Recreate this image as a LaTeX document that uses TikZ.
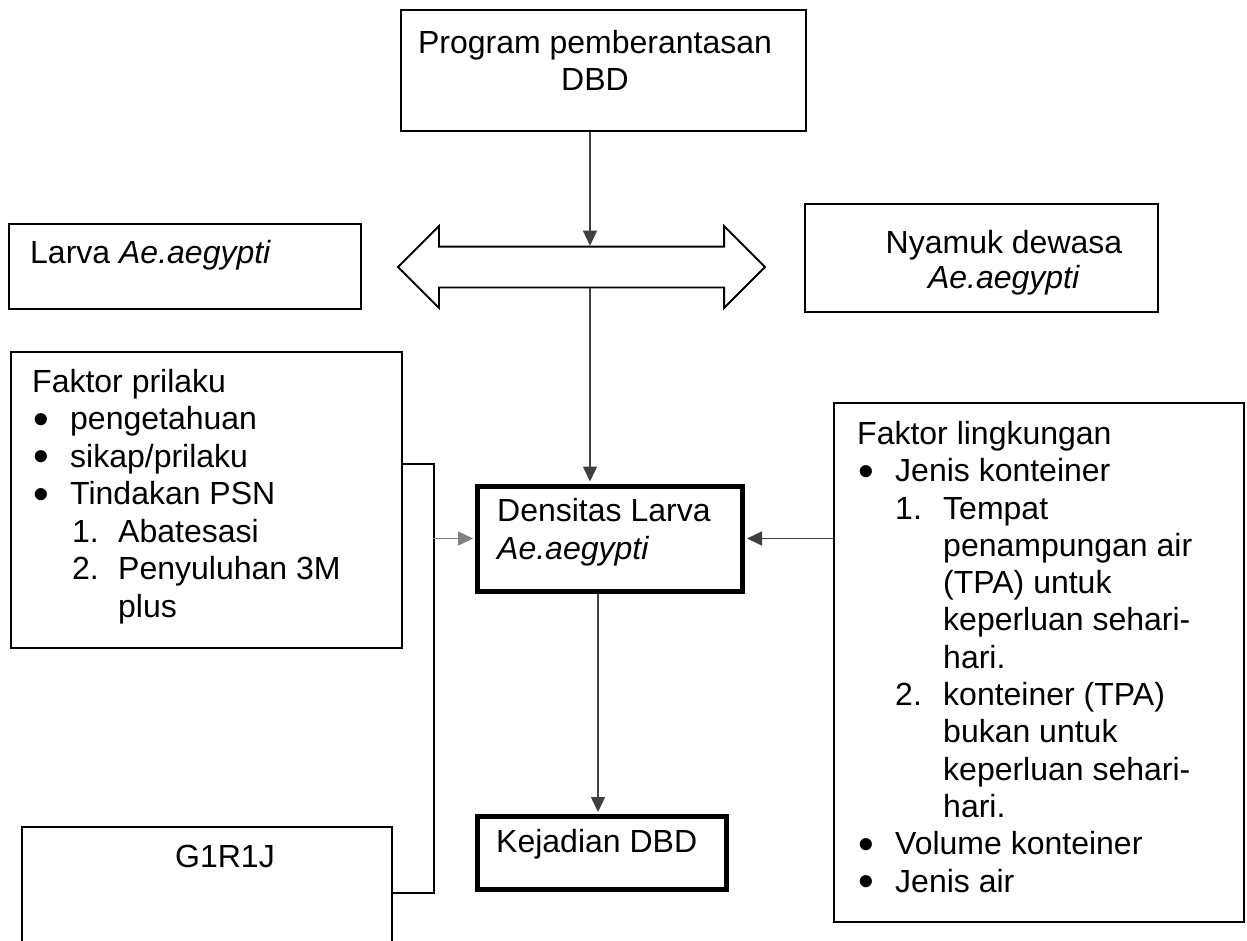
\documentclass[tikz,border=0pt]{standalone}
\usepackage{graphicx}
\usepackage{fontspec}
\setmainfont{Liberation Sans}
\usetikzlibrary{positioning,shapes,arrows,arrows.meta,calc}

\newcommand{\blt}{\makebox[38pt][l]{\hspace*{1pt}\smash{\raisebox{-4.5pt}{\scalebox{1.4}{\textbullet}}}}}

\begin{document}
\begin{tikzpicture}[
    x=1pt, y=-1pt,
    >={Triangle[length=15pt,width=14pt]},
    box/.style={rectangle, draw, line width=1.8pt, inner sep=0pt},
    mainbox/.style={rectangle, draw, line width=5pt, inner sep=0pt},
    dblarrow/.style={double arrow, draw, line width=1.8pt, inner xsep=0pt, inner ysep=19.5pt, double arrow head extend=20.5pt, minimum height=367pt},
    boxtext/.style={inner sep=0pt, anchor=base west, align=left, font=\fontsize{32}{37.5}\selectfont},
    boxtextc/.style={inner sep=0pt, anchor=base, align=center, font=\fontsize{32}{37}\selectfont},
    flow/.style={->, line width=1.5pt, black!75},
    bracketline/.style={line width=2.4pt}
]
    \useasboundingbox (0,0) rectangle (1247,940);
    \clip (0,0) rectangle (1247,940);

    % Program layer (multi-line texts sit on their last baseline)
    \node [box, minimum width=405pt, minimum height=121pt] (prog) at (603.5,70.5) {};
    \node [boxtextc] (progtxt) at (595,90) {Program pemberantasan\\DBD};

    % Vector layer
    \node [dblarrow] (dbl) at (581.5,267) {};
    \node [box, minimum width=352pt, minimum height=85pt] (larva) at (185,266.5) {};
    \node [boxtext] (larvatxt) at (30,263) {Larva \textit{Ae.aegypti}};
    \node [box, minimum width=353pt, minimum height=108pt] (nyamuk) at (981.5,258) {};
    \node [boxtextc, font=\fontsize{32}{35}\selectfont] (nyamuktxt) at (1004,288) {Nyamuk dewasa\\\textit{Ae.aegypti}};

    % Factor layer
    \node [box, minimum width=391pt, minimum height=296pt] (prilaku) at (206.5,500) {};
    \node [boxtext] (prilakutxt) at (32,617) {Faktor prilaku\\
        \blt pengetahuan\\
        \blt sikap/prilaku\\
        \blt Tindakan PSN\\
        \hspace*{40pt}\makebox[46pt][l]{1.}Abatesasi\\
        \hspace*{40pt}\makebox[46pt][l]{2.}Penyuluhan 3M\\
        \hspace*{86pt}plus};
    \node [box, line width=2.6pt, minimum width=410pt, minimum height=519pt] (lingk) at (1039,662.5) {};
    \node [boxtext, font=\fontsize{32}{37.3}\selectfont] (lingktxt) at (857,892) {Faktor lingkungan\\
        \blt Jenis konteiner\\
        \hspace*{38pt}\makebox[48pt][l]{1.}Tempat\\
        \hspace*{86pt}penampungan air\\
        \hspace*{86pt}(TPA) untuk\\
        \hspace*{86pt}keperluan sehari-\\
        \hspace*{86pt}hari.\\
        \hspace*{38pt}\makebox[48pt][l]{2.}konteiner (TPA)\\
        \hspace*{86pt}bukan untuk\\
        \hspace*{86pt}keperluan sehari-\\
        \hspace*{86pt}hari.\\
        \blt Volume konteiner\\
        \blt Jenis air};
    \node [box, minimum width=370pt, minimum height=132pt] (g1r1j) at (207,893) {};
    \node [boxtextc] (g1r1jtxt) at (225,867) {G1R1J};

    % Outcome layer
    \node [mainbox, minimum width=265pt, minimum height=105pt] (densitas) at (610,538.5) {};
    \node [boxtext] (densitastxt) at (497,559) {Densitas Larva\\\textit{Ae.aegypti}};
    \node [mainbox, minimum width=249pt, minimum height=73pt] (kejadian) at (602,853) {};
    \node [boxtext] (kejadiantxt) at (496,852) {Kejadian DBD};

    % Connections
    \coordinate (ax) at (590,0);
    \coordinate (bx) at (598,0);
    \coordinate (jt) at (434,464);
    \coordinate (jm) at (433,538.5);
    \draw [flow] (prog.south -| ax) -- (dbl.90 -| ax);
    \draw [flow, shorten >=2pt] (dbl.270 -| ax) -- (densitas.north -| ax);
    \draw [flow, shorten >=2pt] (lingk.west |- densitas.east) -- (densitas.east);
    \draw [bracketline] (prilaku.east |- jt) -- (jt) -- (jt |- g1r1j.east) -- (g1r1j.east);
    \draw [flow, black!50, shorten >=2pt] (jm) -- (densitas.west);
    \draw [flow, shorten >=2pt] (densitas.south -| bx) -- (kejadian.north -| bx);
\end{tikzpicture}
\end{document}
